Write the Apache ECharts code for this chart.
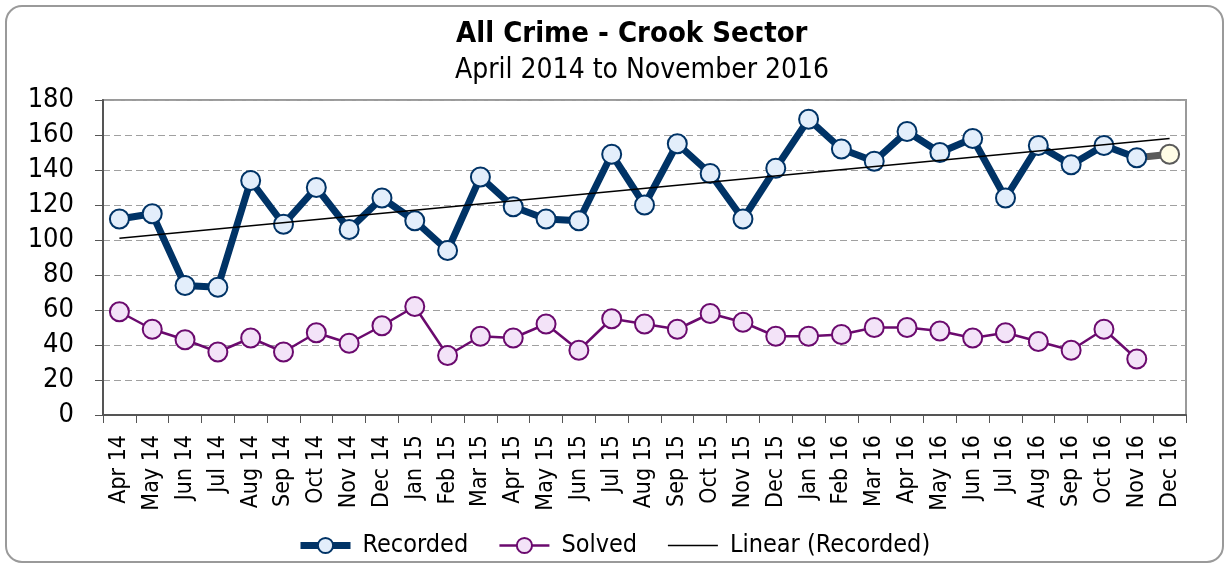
<!DOCTYPE html>
<html lang="en" style="background: #ffffff;height: 100%">
<head>
    <meta charset="utf-8"/>
    <title>All Crime - Crook Sector</title>
    <script type="text/javascript" src="https://cdn.jsdelivr.net/npm/echarts@6.0.0/dist/echarts.min.js"></script>
</head>
<body style="margin: 0;height: 100%">
<div id="chart" style="width: 1226px;height: 564px"></div>
<script>
    // months on the x axis
    const MONTHS = ['Apr 14', 'May 14', 'Jun 14', 'Jul 14', 'Aug 14', 'Sep 14', 'Oct 14', 'Nov 14', 'Dec 14',
        'Jan 15', 'Feb 15', 'Mar 15', 'Apr 15', 'May 15', 'Jun 15', 'Jul 15', 'Aug 15', 'Sep 15', 'Oct 15',
        'Nov 15', 'Dec 15', 'Jan 16', 'Feb 16', 'Mar 16', 'Apr 16', 'May 16', 'Jun 16', 'Jul 16', 'Aug 16',
        'Sep 16', 'Oct 16', 'Nov 16', 'Dec 16'];

    // Apr 14 .. Nov 16
    const RECORDED = [112, 115, 74, 73, 134, 109, 130, 106, 124, 111, 94, 136, 119, 112, 111, 149, 120, 155,
        138, 112, 141, 169, 152, 145, 162, 150, 158, 124, 154, 143, 154, 147];
    const SOLVED = [59, 49, 43, 36, 44, 36, 47, 41, 51, 62, 34, 45, 44, 52, 37, 55, 52, 49, 58, 53, 45, 45,
        46, 50, 50, 48, 44, 47, 42, 37, 49, 32];

    // Dec 16 projection
    const PROJECTED = 149;

    // linear trend end points (Apr 14, Dec 16)
    const TREND = [101, 158];

    const Y_TICKS = [0, 20, 40, 60, 80, 100, 120, 140, 160, 180];

    const FONT = 'Tahoma, "DejaVu Sans Condensed", "Liberation Sans", sans-serif';
    const NAVY = '#003366';
    const PURPLE = '#6b0a6e';

    let last = RECORDED.length - 1;
    let projData = MONTHS.map(() => '-');
    projData[last] = {value: RECORDED[last], symbol: 'none'};
    projData[last + 1] = PROJECTED;

    let chart = echarts.init(document.getElementById('chart'));
    chart.setOption({
        backgroundColor: '#ffffff',
        animation: false,
        textStyle: {fontFamily: FONT, color: '#000'},
        graphic: [{
            type: 'rect',
            shape: {x: 6, y: 6, width: 1217, height: 556, r: 16},
            style: {fill: 'none', stroke: '#9a9a9a', lineWidth: 2},
            z: -10
        }],
        title: [{
            text: 'All Crime - Crook Sector',
            left: 451,
            top: 15,
            textStyle: {fontFamily: FONT, fontSize: 29, fontWeight: 'bold', color: '#000'}
        }, {
            text: 'April 2014 to November 2016',
            left: 450,
            top: 52,
            textStyle: {fontFamily: FONT, fontSize: 28, fontWeight: 'normal', color: '#000'}
        }],
        legend: {
            bottom: 1,
            left: 292,
            itemWidth: 50,
            itemHeight: 19,
            itemGap: 30,
            textStyle: {fontFamily: FONT, fontSize: 25, color: '#000', padding: [0, 0, 0, 7]},
            data: [
                {name: 'Recorded', lineStyle: {width: 7}},
                {name: 'Solved', lineStyle: {width: 2.5}},
                {name: 'Linear (Recorded)', lineStyle: {width: 1.5}, itemStyle: {opacity: 0}}
            ]
        },
        grid: {
            left: 103, right: 40, top: 100, bottom: 149,
            show: true, borderColor: '#9a9a9a', borderWidth: 2
        },
        xAxis: {
            type: 'category',
            data: MONTHS,
            boundaryGap: true,
            axisLine: {lineStyle: {color: '#555', width: 2}},
            axisTick: {show: true, interval: 0, length: 8, lineStyle: {color: '#555'}},
            axisLabel: {interval: 0, rotate: 90, fontSize: 23, color: '#000', margin: 20, fontFamily: FONT}
        },
        yAxis: {
            type: 'value',
            min: Y_TICKS[0],
            max: Y_TICKS[Y_TICKS.length - 1],
            interval: 20,
            axisLine: {show: true, lineStyle: {color: '#555', width: 2}},
            axisTick: {show: true, length: 8, lineStyle: {color: '#555'}},
            axisLabel: {fontSize: 27, color: '#000', margin: 29, fontFamily: FONT},
            splitLine: {lineStyle: {color: '#a0a0a0', type: [7, 4], width: 1}}
        },
        series: [{
            name: 'Projected',
            type: 'line',
            data: projData,
            symbol: 'circle',
            symbolSize: 19,
            lineStyle: {color: '#5a5a5a', width: 7},
            itemStyle: {color: '#fffde6', borderColor: '#5a5a5a', borderWidth: 2},
            z: 1
        }, {
            name: 'Recorded',
            type: 'line',
            data: RECORDED,
            symbol: 'circle',
            symbolSize: 19,
            lineStyle: {color: NAVY, width: 7},
            itemStyle: {color: '#e3eefb', borderColor: NAVY, borderWidth: 2},
            z: 3
        }, {
            name: 'Solved',
            type: 'line',
            data: SOLVED,
            symbol: 'circle',
            symbolSize: 19,
            lineStyle: {color: PURPLE, width: 2.5},
            itemStyle: {color: '#f3e3f8', borderColor: PURPLE, borderWidth: 2},
            z: 3
        }, {
            name: 'Linear (Recorded)',
            type: 'line',
            data: [[MONTHS[0], TREND[0]], [MONTHS[MONTHS.length - 1], TREND[1]]],
            symbol: 'none',
            lineStyle: {color: '#000', width: 1.5},
            itemStyle: {color: '#000'},
            z: 4
        }]
    });
</script>
</body>
</html>
